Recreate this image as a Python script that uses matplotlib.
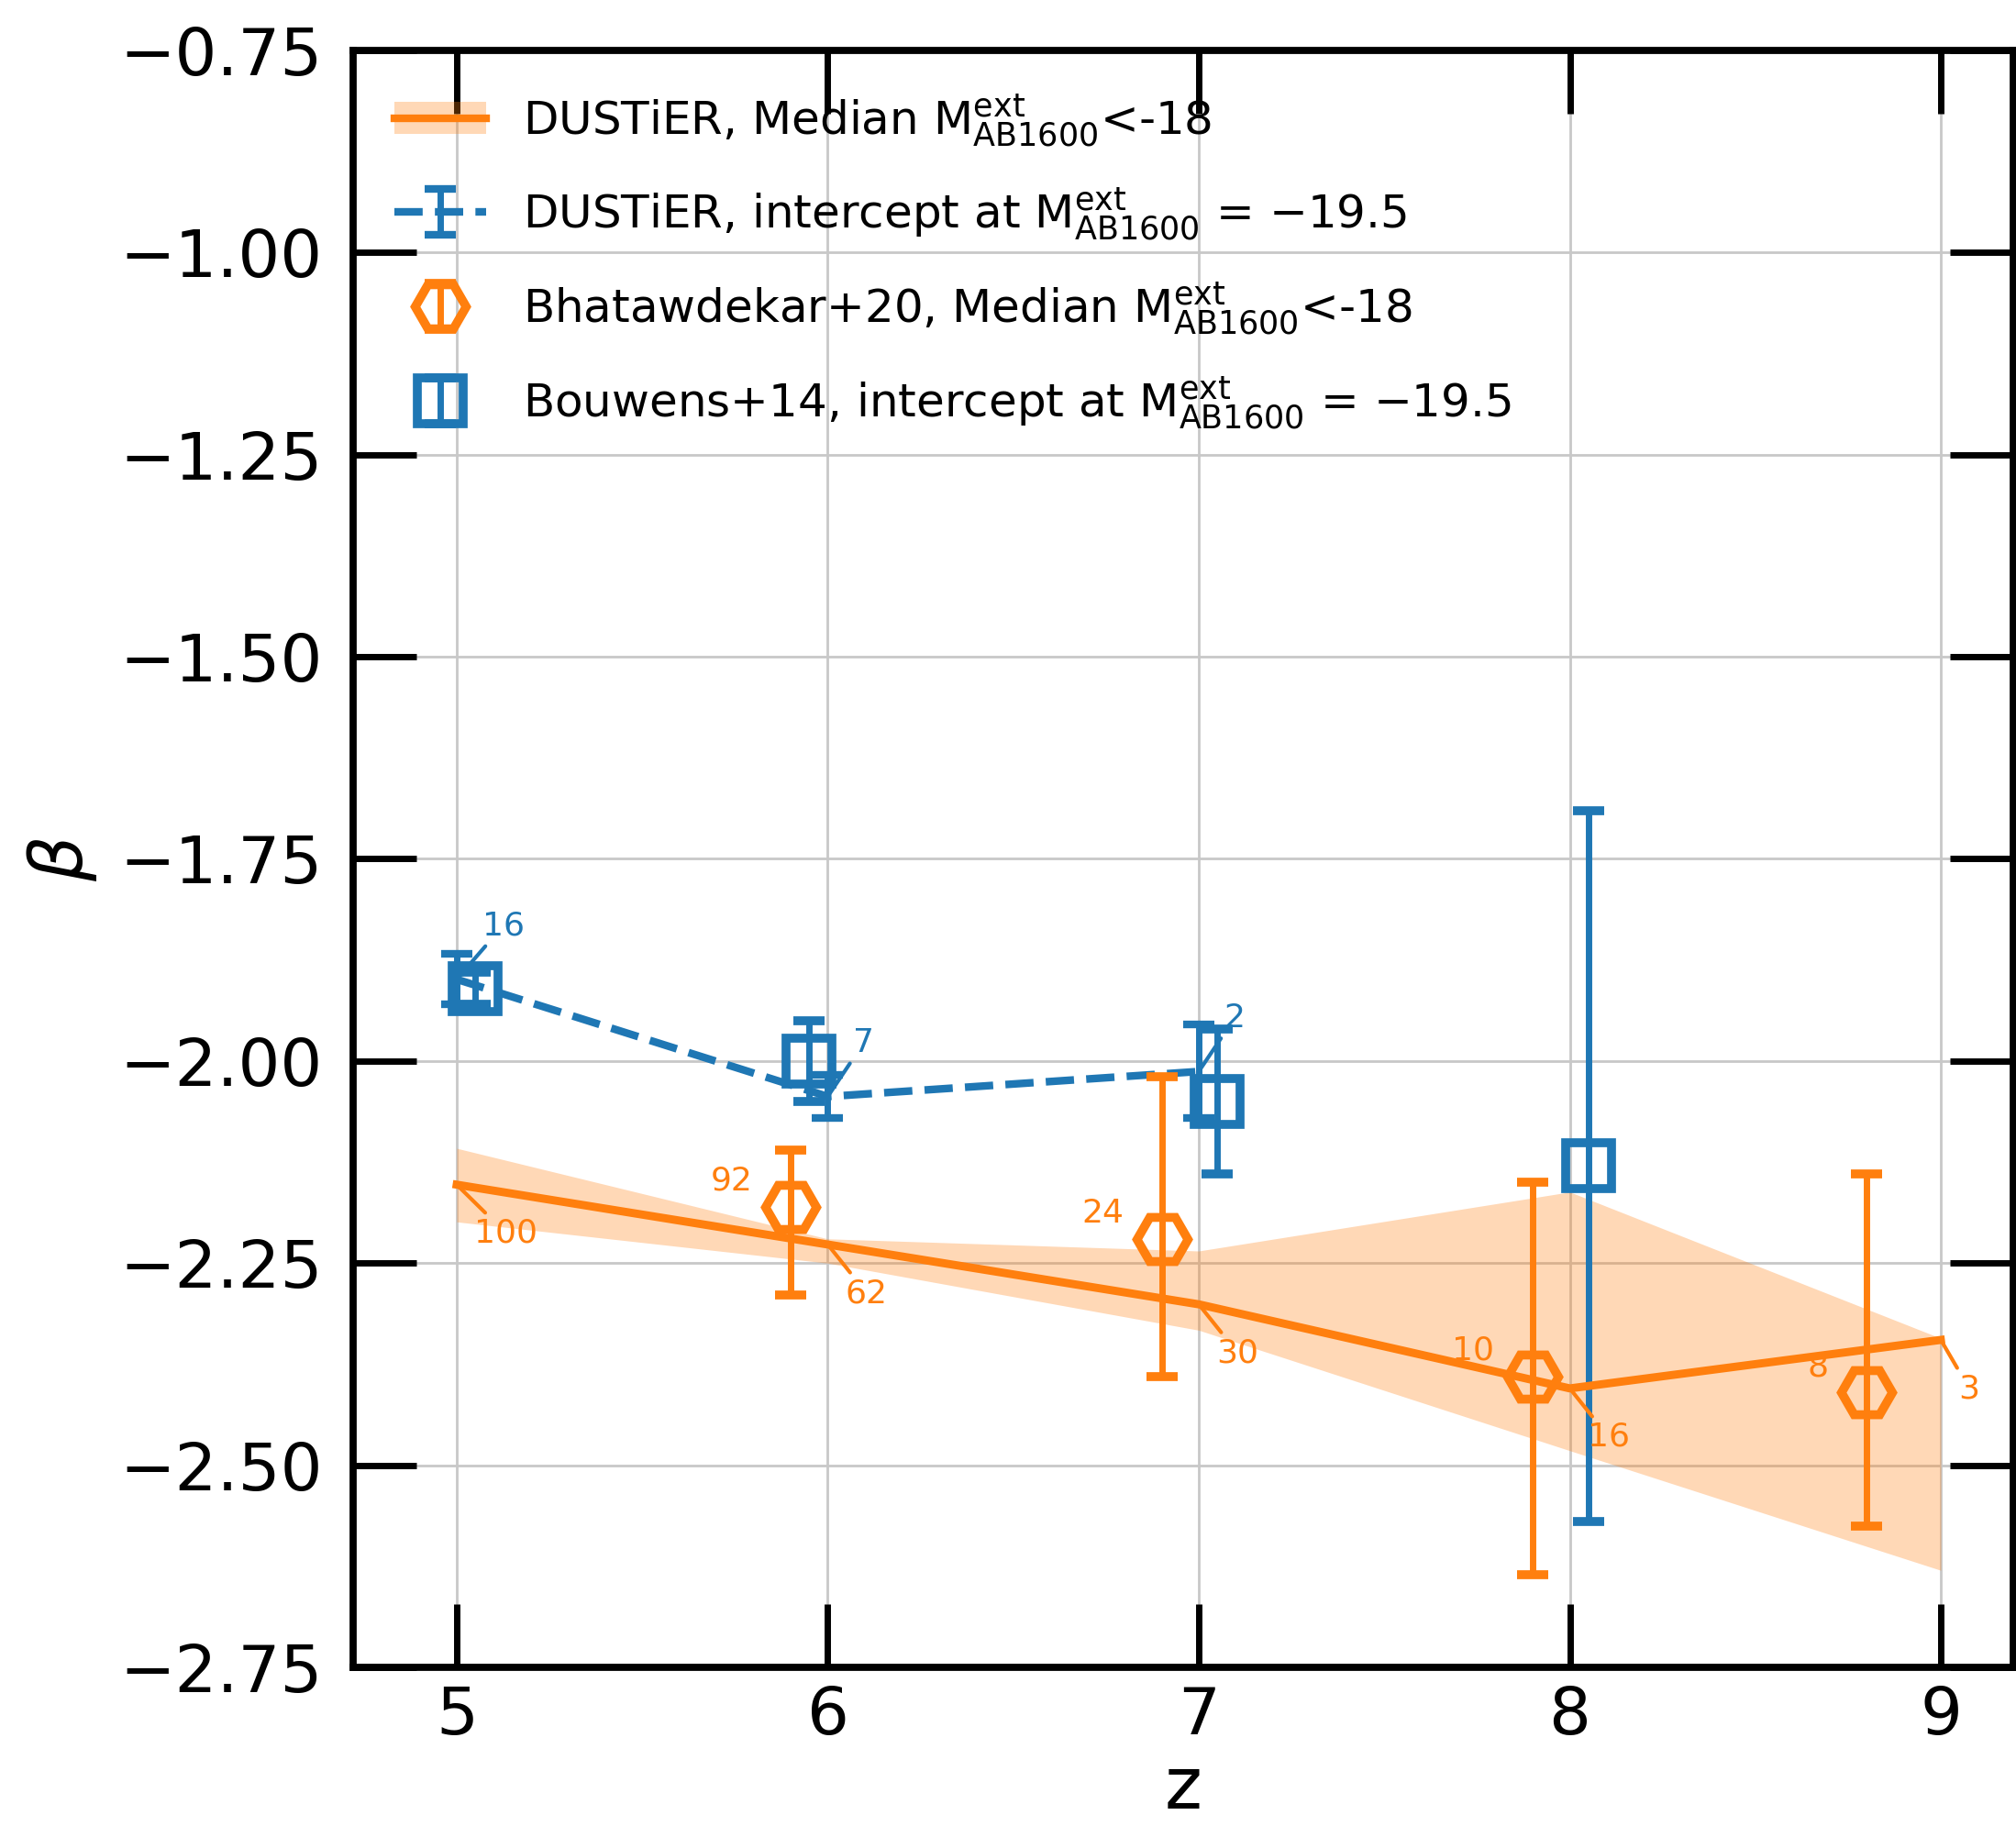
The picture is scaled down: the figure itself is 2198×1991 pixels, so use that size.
import matplotlib
matplotlib.use("Agg")
import matplotlib.pyplot as plt
from matplotlib.patches import Patch
from matplotlib.lines import Line2D

# DUSTiER median beta (M_AB1600 < -18) with spread band
z_med = [5, 6, 7, 8, 9]
beta_med = [-2.153, -2.227, -2.301, -2.405, -2.345]
beta_med_lo = [-2.199, -2.250, -2.333, -2.482, -2.630]
beta_med_hi = [-2.108, -2.220, -2.235, -2.162, -2.343]
n_med = [100, 62, 30, 16, 3]

# DUSTiER intercept at M = -19.5
z_int = [5, 6, 7]
beta_int = [-1.899, -2.044, -2.013]
err_int = [0.031, 0.027, 0.058]
n_int = [16, 7, 2]

# Bhatawdekar+20
z_bh = [5.9, 6.9, 7.9, 8.8]
beta_bh = [-2.18, -2.22, -2.39, -2.41]
err_bh_lo = [0.11, 0.17, 0.245, 0.165]
err_bh_hi = [0.07, 0.20, 0.24, 0.27]
n_bh = [92, 24, 10, 8]

# Bouwens+14
z_bw = [5.05, 5.95, 7.05, 8.05]
beta_bw = [-1.91, -2.00, -2.05, -2.13]
err_bw = [0.02, 0.05, 0.09, 0.44]

orange = "tab:orange"
blue = "tab:blue"

fig = plt.figure(figsize=(10.99, 9.955), dpi=200)
ax = fig.add_axes([0.1752, 0.0869, 0.8234, 0.8855])

ax.grid(True, color="#c8c8c8", lw=1.0, zorder=0)
ax.set_axisbelow(True)

# Bouwens+14
bw = ax.errorbar(z_bw, beta_bw, yerr=err_bw, fmt="s", color=blue, mfc="none",
                 ms=18, mew=3.5, elinewidth=2.5, capsize=6, capthick=3, zorder=3)

# DUSTiER intercept
di = ax.errorbar(z_int, beta_int, yerr=err_int, fmt="--", color=blue, lw=3,
                 elinewidth=2.5, capsize=6, capthick=3, zorder=3)
for z, b, n in zip(z_int, beta_int, n_int):
    ax.annotate(str(n), xy=(z, b), xytext=(10, 15), textcoords="offset points",
                ha="left", va="bottom", color=blue, fontsize=13,
                arrowprops=dict(arrowstyle="-", color=blue, lw=1.5,
                                shrinkA=0, shrinkB=0))

# DUSTiER median
ax.fill_between(z_med, beta_med_lo, beta_med_hi, color=orange, alpha=0.3, lw=0, zorder=2)
ax.plot(z_med, beta_med, color=orange, lw=3.2, zorder=4)
for z, b, n in zip(z_med, beta_med, n_med):
    ax.annotate(str(n), xy=(z, b), xytext=(7, -13), textcoords="offset points",
                ha="left", va="top", color=orange, fontsize=13,
                arrowprops=dict(arrowstyle="-", color=orange, lw=1.5,
                                shrinkA=0, shrinkB=0))

# Bhatawdekar+20
bh = ax.errorbar(z_bh, beta_bh, yerr=[err_bh_lo, err_bh_hi], fmt="H", color=orange,
                 mfc="none", ms=20, mew=3.5, elinewidth=2.5, capsize=6, capthick=3,
                 zorder=5)
for z, b, n in zip(z_bh, beta_bh, n_bh):
    ax.annotate(str(n), xy=(z, b), xytext=(-15, 4), textcoords="offset points",
                ha="right", va="bottom", color=orange, fontsize=13)

ax.set_xlim(4.721, 9.195)
ax.set_ylim(-2.75, -0.75)
ax.set_xticks([5, 6, 7, 8, 9])
ax.set_yticks([-2.75, -2.5, -2.25, -2.0, -1.75, -1.5, -1.25, -1.0, -0.75])
ax.set_yticklabels(["−2.75", "−2.50", "−2.25", "−2.00", "−1.75", "−1.50",
                    "−1.25", "−1.00", "−0.75"])
ax.tick_params(direction="in", length=25, width=2.5, top=True, right=True,
               labelsize=26)
ax.tick_params(axis="x", pad=7)
ax.tick_params(axis="y", pad=12)
for s in ax.spines.values():
    s.set_linewidth(2.8)

ax.set_xlabel("z", fontsize=28, labelpad=2)
ax.set_ylabel(r"$\beta$", fontsize=28, labelpad=8)

band_handle = (Patch(facecolor=orange, alpha=0.3, lw=0), Line2D([], [], color=orange, lw=3))
mlab = r"$\mathrm{M}^{\rm ext}_{\rm AB1600}$"
ax.legend([band_handle, di, bh, bw],
          ["DUSTiER, Median " + mlab + "<-18",
           "DUSTiER, intercept at " + mlab + " = $-$19.5",
           "Bhatawdekar+20, Median " + mlab + "<-18",
           "Bouwens+14, intercept at " + mlab + " = $-$19.5"],
          loc="upper left", frameon=False, fontsize=18, labelspacing=0.8)

fig.savefig("out.png", dpi=200)
